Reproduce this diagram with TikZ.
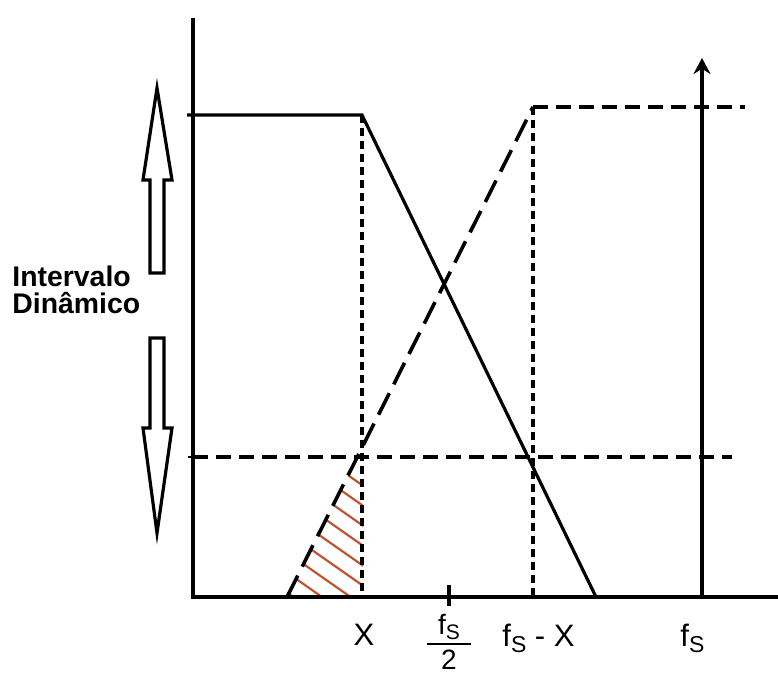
\documentclass[tikz,border=0pt]{standalone}
\usepackage{fontspec}
\setmainfont{Liberation Sans}
\usetikzlibrary{arrows.meta}

\definecolor{hatchred}{RGB}{190,85,50}
\newcommand{\fS}{f\raisebox{-3pt}{\fontsize{11.5}{11.5}\selectfont S}}
\newcommand{\fSsmall}{f\raisebox{-2.5pt}{\fontsize{10.5}{10.5}\selectfont S}}

\begin{document}
\begin{tikzpicture}[x=0.5pt, y=-0.5pt,
    thickline/.style={line width=1.6pt},
    shortdash/.style={line width=1.8pt, dash pattern=on 7.5pt off 4pt},
    longdash/.style={line width=1.8pt, dash pattern=on 12pt off 5pt},
    dotline/.style={line width=1.8pt, dash pattern=on 4pt off 2.5pt},
    hollow/.style={line width=1.6pt, line join=miter},
    lbl/.style={font=\fontsize{15.5}{17}\selectfont, inner sep=0pt}]

    \useasboundingbox (0,0) rectangle (778,675);

    % Points
    \coordinate (O) at (193,597);
    \coordinate (top) at (193,18);
    \coordinate (end) at (778,597);
    \coordinate (hiL) at (187,115);
    \coordinate (X) at (362,115);
    \coordinate (Xb) at (362,597);
    \coordinate (fX) at (596,597);
    \coordinate (riseA) at (287,597);
    \coordinate (riseB) at (533,107);
    \coordinate (fXb) at (533,597);
    \coordinate (dashEnd) at (745,107);
    \coordinate (fsb) at (702,597);
    \coordinate (fst) at (702,58);

    % Hatched area
    \begin{scope}
        \clip (riseA) -- (358,457) -- (363,457) -- (363,597) -- cycle;
        \foreach \k in {0,...,8}
            \draw[hatchred, line width=1.1pt] (262,415+20*\k) -- (372,492+20*\k);
    \end{scope}

    % Axes
    \draw[thickline] (top) -- (O) -- (end);
    \draw[thickline] (hiL) -- (X) -- (fX);
    \draw[line width=1.4pt] (188,457) -- (198,457);
    \draw[line width=1.6pt] (449,585) -- (449,606);

    % Dashed lines
    \draw[longdash] (riseA) -- (riseB);
    \draw[shortdash] (riseB) -- (dashEnd);
    \draw[shortdash] (193,457) -- (732,457);
    \draw[dotline] (X) -- (Xb);
    \draw[dotline] (riseB) -- (fXb);

    % Sampling frequency
    \draw[thickline, -{Stealth[length=8pt, width=8.5pt]}] (fsb) -- (fst);

    % Dynamic range arrows
    \draw[hollow] (157,88) -- (172,180) -- (164,180) -- (164,273) -- (150,273)
        -- (150,180) -- (143,180) -- cycle;
    \draw[hollow] (150,338) -- (164,338) -- (164,428) -- (172,428) -- (157,533)
        -- (143,428) -- (150,428) -- cycle;

    \node[font=\fontsize{14.2}{13.5}\selectfont\bfseries, align=left, inner sep=0pt,
        anchor=base west] (range) at (12,313) {Intervalo\\Dinâmico};

    % Labels
    \node[lbl, anchor=base] (xlab) at (364,645) {X};
    \node[lbl, anchor=base west] (fslab) at (680,646) {\fS};
    \node[lbl, anchor=base west] (fsx) at (502,646) {\fS{} - X};
    \node[lbl, font=\fontsize{14}{15}\selectfont, anchor=base] (half) at (449,669)
        {\shortstack{\fSsmall\\[-1.5pt]\rule{22pt}{1.3pt}\\[-1pt]2}};

\end{tikzpicture}
\end{document}
